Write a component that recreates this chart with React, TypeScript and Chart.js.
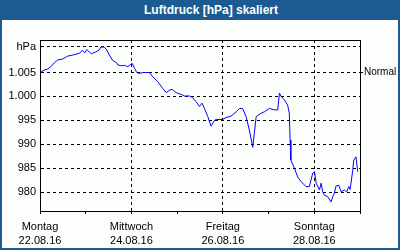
import React, { useEffect, useRef } from 'react';
import { Chart, registerables } from 'chart.js';

Chart.register(...registerables);

// ---- data ----
const titleText = 'Luftdruck [hPa] skaliert';

// hours since Monday 22.08.16 00:00
const hours = [
  0, 2.2, 3.9, 5.7, 7.5, 9.2, 11.8, 14.4, 17.9, 20.6, 22.3, 23.5, 24.6, 25.8, 27.0, 29.3, 31.1, 31.9,
  33.7, 35.1, 36.3, 38.0, 40.3, 40.8, 42.6, 44.3, 46.1, 47.3, 48.4, 49.6, 50.8, 52.2, 54.0, 57.5,
  59.2, 61.8, 64.4, 66.2, 68.0, 69.4, 71.5, 73.6, 74.9, 75.8, 78.5, 80.0, 82.0, 83.7, 85.1, 86.3,
  88.1, 89.8, 91.6, 92.5, 95.9, 97.7, 100.3, 103.0, 104.7, 106.4, 108.2, 109.9, 111.7, 112.6, 113.5,
  116.1, 117.8, 120.4, 123.1, 124.8, 125.7, 126.6, 128.3, 130.0, 130.9, 131.3, 131.7, 133.6, 135.3,
  137.1, 139.7, 141.4, 143.2, 144.1, 145.0, 146.7, 147.6, 148.4, 149.3, 151.0, 152.8, 153.7, 154.5,
  155.4, 156.8, 158.1, 159.8, 161.0, 162.1, 162.8, 164.2, 164.7, 165.9, 166.8,
];
const pressure = [
  1005.0, 1005.5, 1005.7, 1006.2, 1007.0, 1007.6, 1007.8, 1008.4, 1008.7, 1009.0, 1009.6, 1009.1,
  1009.8, 1009.3, 1008.9, 1009.3, 1009.7, 1010.3, 1010.3, 1009.7, 1008.7, 1007.6, 1007.0, 1006.6,
  1006.4, 1006.5, 1006.2, 1006.6, 1006.9, 1005.9, 1005.0, 1004.8, 1005.0, 1005.0, 1004.1, 1003.1,
  1001.7, 1000.8, 1001.3, 1001.5, 1000.8, 1000.5, 1000.3, 1000.1, 1000.1, 999.8, 998.9, 997.9,
  998.6, 997.5, 995.8, 993.8, 995.0, 995.2, 995.2, 995.6, 995.9, 996.8, 997.5, 997.5, 995.8, 993.0,
  989.4, 992.6, 995.8, 996.5, 996.8, 997.5, 997.2, 997.2, 1000.7, 1000.0, 999.3, 998.2, 996.5,
  990.9, 986.7, 985.0, 983.2, 982.2, 981.2, 981.2, 984.0, 984.3, 981.9, 980.5, 981.9, 980.1, 979.4,
  979.1, 978.0, 979.1, 979.8, 981.3, 981.5, 980.1, 980.5, 980.1, 981.2, 980.6, 984.6, 986.7, 987.4,
  984.3,
];

const dayTicks = [0, 24, 48, 72, 96, 120, 144, 168];
const dayNames = ['Montag', '', 'Mittwoch', '', 'Freitag', '', 'Sonntag', ''];
const dayDates = ['22.08.16', '', '24.08.16', '', '26.08.16', '', '28.08.16', ''];

const yTicks = [980, 985, 990, 995, 1000, 1005];
const unitTickValue = 1010.36;
const unitLabel = 'hPa';
const normalValue = 1005;
const normalLabel = 'Normal';

const yMin = 976.1;
const yMax = 1011.78;

const FONT = '"Liberation Sans", Arial, sans-serif';

function fmtDe(v: number): string {
  const n = Math.round(v);
  if (n >= 1000) {
    const s = String(n);
    return s.slice(0, s.length - 3) + '.' + s.slice(s.length - 3);
  }
  return String(n);
}

const framePlugin = {
  id: 'frame',
  afterDatasetsDraw(chart: any) {
    const { ctx, chartArea: a } = chart;
    ctx.save();
    ctx.strokeStyle = '#000';
    ctx.lineWidth = 1;
    ctx.setLineDash([]);
    ctx.strokeRect(
      Math.round(a.left) + 0.5,
      Math.round(a.top) + 0.5,
      Math.round(a.right - a.left),
      Math.round(a.bottom - a.top)
    );
    ctx.restore();
  },
};

export default function App() {
  const ref = useRef<HTMLCanvasElement | null>(null);

  useEffect(() => {
    if (!ref.current) return;
    const chart = new Chart(ref.current, {
      type: 'line',
      data: {
        datasets: [
          {
            data: hours.map((h, i) => ({ x: h, y: pressure[i] })),
            borderColor: '#0000ff',
            borderWidth: 1,
            pointRadius: 0,
            tension: 0,
            fill: false,
          },
        ],
      },
      options: {
        animation: false,
        responsive: false,
        devicePixelRatio: 1,
        layout: { padding: { top: 20, left: 0, right: 0, bottom: 0 } },
        plugins: { legend: { display: false }, tooltip: { enabled: false }, title: { display: false } },
        scales: {
          x: {
            type: 'linear',
            position: 'bottom',
            min: 0,
            max: 168,
            afterBuildTicks: (s: any) => {
              s.ticks = dayTicks.map((v) => ({ value: v }));
            },
            afterFit: (s: any) => {
              s.height = 37;
            },
            ticks: {
              autoSkip: false,
              maxRotation: 0,
              minRotation: 0,
              padding: 6,
              color: '#000',
              font: { family: FONT, size: 11, lineHeight: 14 / 11 },
              callback: (value: any) => {
                const i = dayTicks.indexOf(Number(value));
                if (i >= 0 && dayNames[i]) return [dayNames[i], dayDates[i]];
                return '';
              },
            },
            grid: {
              color: (ctx: any) => {
                const v = ctx.tick ? ctx.tick.value : -1;
                return v > 0 && v < 168 && v % 48 === 0 ? '#000' : 'rgba(0,0,0,0)';
              },
              tickColor: '#000',
              tickLength: 3,
              lineWidth: 1,
              drawTicks: true,
              tickBorderDash: [],
            },
            border: { display: true, color: '#000', width: 1, dash: [3, 3] },
          },
          y: {
            type: 'linear',
            position: 'left',
            min: yMin,
            max: yMax,
            afterBuildTicks: (s: any) => {
              s.ticks = [...yTicks, unitTickValue].map((v) => ({ value: v }));
            },
            afterFit: (s: any) => {
              s.width = 38;
            },
            ticks: {
              padding: 4,
              color: '#000',
              font: { family: FONT, size: 11 },
              callback: (value: any) => {
                const v = Number(value);
                if (Math.abs(v - unitTickValue) < 0.01) return unitLabel;
                return fmtDe(v);
              },
            },
            grid: { color: '#000', lineWidth: 1, drawTicks: false },
            border: { display: true, color: '#000', width: 1, dash: [3, 3] },
          },
          y2: {
            type: 'linear',
            position: 'right',
            min: yMin,
            max: yMax,
            afterBuildTicks: (s: any) => {
              s.ticks = [{ value: normalValue }];
            },
            afterFit: (s: any) => {
              s.width = 38;
            },
            ticks: {
              padding: 1,
              color: '#000',
              font: { family: FONT, size: 10 },
              callback: () => normalLabel,
            },
            grid: { drawOnChartArea: false, tickColor: '#000', tickLength: 3, drawTicks: true },
            border: { display: true, color: '#000', width: 1 },
          },
        },
      } as any,
      plugins: [framePlugin],
    });
    return () => chart.destroy();
  }, []);

  return (
    <div
      style={{
        position: 'absolute',
        left: 0,
        top: 0,
        width: 400,
        height: 250,
        background: '#1c5b91',
        overflow: 'hidden',
      }}
    >
      <div
        style={{
          position: 'absolute',
          left: 0,
          top: 0,
          width: 400,
          height: 20,
          boxSizing: 'border-box',
          paddingLeft: 22,
          textAlign: 'center',
          lineHeight: '20px',
          color: '#ffffff',
          fontFamily: FONT,
          fontWeight: 'bold',
          fontSize: 12,
        }}
      >
        {titleText}
      </div>
      <div
        style={{
          position: 'absolute',
          left: 2,
          top: 20,
          width: 396,
          height: 228,
          background: '#fcfefc',
        }}
      >
        <canvas ref={ref} width={396} height={228} style={{ display: 'block', width: 396, height: 228 }} />
      </div>
    </div>
  );
}
